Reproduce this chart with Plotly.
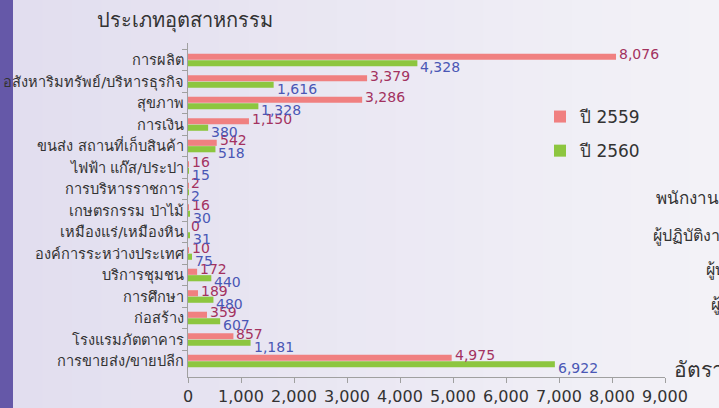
import plotly.graph_objects as go

categories = [
    "การผลิต",
    "อสังหาริมทรัพย์/บริหารธุรกิจ",
    "สุขภาพ",
    "การเงิน",
    "ขนส่ง สถานที่เก็บสินค้า",
    "ไฟฟ้า แก๊ส/ประปา",
    "การบริหารราชการ",
    "เกษตรกรรม ป่าไม้",
    "เหมืองแร่/เหมืองหิน",
    "องค์การระหว่างประเทศ",
    "บริการชุมชน",
    "การศึกษา",
    "ก่อสร้าง",
    "โรงแรมภัตตาคาร",
    "การขายส่ง/ขายปลีก",
]
values_2559 = [8076, 3379, 3286, 1150, 542, 16, 2, 16, 0, 10, 172, 189, 359, 857, 4975]
values_2560 = [4328, 1616, 1328, 380, 518, 15, 2, 30, 31, 75, 440, 480, 607, 1181, 6922]
series_names = ["ปี 2559", "ปี 2560"]
x_ticks = list(range(0, 9001, 1000))

PINK = "#f08080"
GREEN = "#8dc63f"
PINK_TXT = "#a3325f"
GREEN_TXT = "#4a57b5"
FONT = "Tahoma, 'DejaVu Sans', 'Noto Sans', sans-serif"

fig = go.Figure()
fig.add_trace(go.Bar(y=categories, x=values_2559, orientation="h", name=series_names[0],
                     marker=dict(color=PINK, line=dict(width=0)), legendgroup="a"))
fig.add_trace(go.Bar(y=categories, x=values_2560, orientation="h", name=series_names[1],
                     marker=dict(color=GREEN, line=dict(width=0)), legendgroup="b"))

annotations = []
for c, v in zip(categories, values_2559):
    annotations.append(dict(x=v, y=c, xref="x", yref="y", text=f"{v:,}", showarrow=False,
                            xanchor="left", yanchor="middle", xshift=1, yshift=6,
                            font=dict(size=14, color=PINK_TXT, family=FONT)))
for c, v in zip(categories, values_2560):
    annotations.append(dict(x=v, y=c, xref="x", yref="y", text=f"{v:,}", showarrow=False,
                            xanchor="left", yanchor="middle", xshift=1, yshift=-7,
                            font=dict(size=14, color=GREEN_TXT, family=FONT)))

W, H = 719, 408
ML, MR, MT, MB = 188, 54, 43, 31
pw, ph = W - ML - MR, H - MT - MB

def px_x(px):
    return (px - ML) / pw

def px_y(py):
    return (H - MB - py) / ph

# title and partial texts from the surrounding slide
side_texts = [
    ("ประเภทอุตสาหกรรม", 95, 20, 20),
    ("พนักงานราชการ", 654, 198, 17),
    ("ผู้ปฏิบัติงาน", 651, 236, 16),
    ("ผู้บริหาร", 704, 270, 16),
    ("ผู้จัดการ", 709, 305, 16),
    ("อัตรา", 672, 370, 21),
]
for t, px, py, fs in side_texts:
    annotations.append(dict(x=px_x(px), y=px_y(py), xref="paper", yref="paper",
                            text=t, showarrow=False, xanchor="left", yanchor="middle",
                            font=dict(size=fs, color="#333333", family=FONT)))

# background: soft horizontal gradient plus purple stripe on the left
shapes = []
n = 24
c0 = (226, 222, 239)
c1 = (243, 242, 247)
for i in range(n):
    t = i / (n - 1)
    col = tuple(round(a + (b - a) * t) for a, b in zip(c0, c1))
    x0 = 13 + (W - 13) * i / n
    x1 = 13 + (W - 13) * (i + 1) / n + 1
    shapes.append(dict(type="rect", xref="paper", yref="paper", x0=px_x(x0), x1=px_x(x1),
                       y0=px_y(H + 5), y1=px_y(-5), fillcolor="rgb(%d,%d,%d)" % col,
                       line=dict(width=0), layer="below"))
shapes.append(dict(type="rect", xref="paper", yref="paper", x0=px_x(-2), x1=px_x(13),
                   y0=px_y(H + 5), y1=px_y(-5), fillcolor="#6558a8", line=dict(width=0),
                   layer="below"))

fig.update_layout(
    width=W, height=H,
    margin=dict(l=ML, r=MR, t=MT, b=MB, autoexpand=False),
    paper_bgcolor="#ebe8f3",
    plot_bgcolor="rgba(0,0,0,0)",
    barmode="group",
    bargap=0.4,
    bargroupgap=0.05,
    font=dict(family=FONT, color="#333333"),
    showlegend=True,
    legend=dict(x=px_x(540), y=px_y(99), xanchor="left", yanchor="top",
                font=dict(size=17, color="#333333", family=FONT),
                bgcolor="rgba(0,0,0,0)", traceorder="grouped", tracegroupgap=9,
                itemwidth=30),
    xaxis=dict(range=[0, 9000], tickvals=x_ticks, tickformat=",d", showgrid=False,
               zeroline=False, showline=True, linecolor="#a0a0a0", linewidth=1,
               ticks="outside", ticklen=5, tickcolor="#a0a0a0", automargin=False,
               tickfont=dict(size=16, color="#333333", family=FONT)),
    yaxis=dict(autorange="reversed", showgrid=False, showline=True, linecolor="#a0a0a0",
               linewidth=1, ticks="outside", ticklen=5, tickcolor="#a0a0a0",
               tickson="boundaries", automargin=False,
               tickfont=dict(size=14.6, color="#333333", family=FONT)),
    annotations=annotations,
    shapes=shapes,
)

fig.write_html("out.html", config={"displayModeBar": False},
               post_script="document.body.style.margin='0';")
